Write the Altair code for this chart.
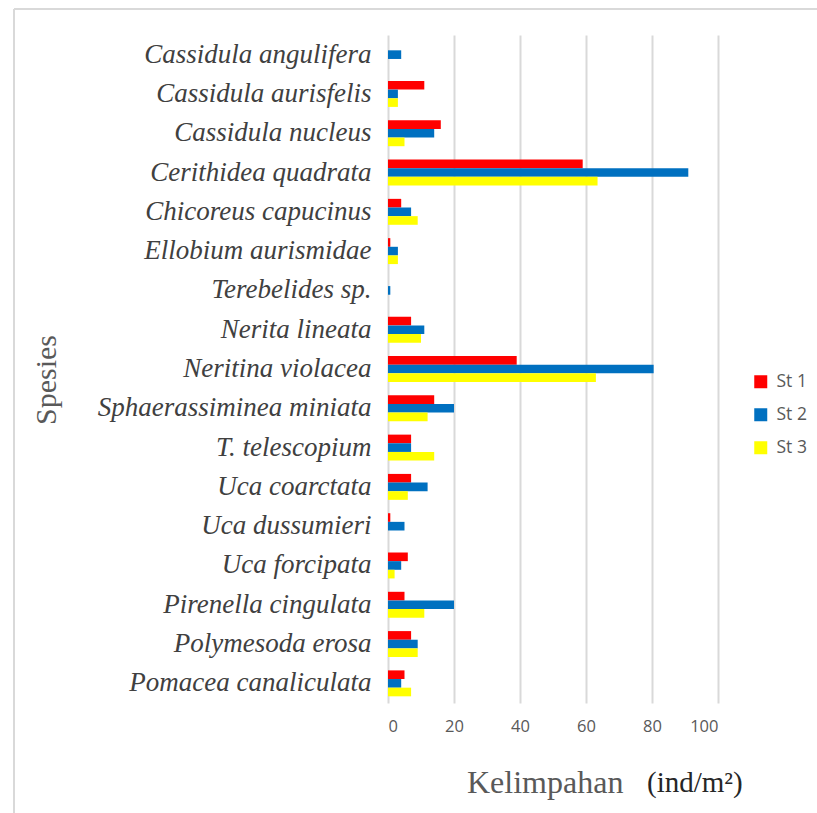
import altair as alt
import pandas as pd

# Species, top to bottom
species = [
    "Cassidula angulifera",
    "Cassidula aurisfelis",
    "Cassidula nucleus",
    "Cerithidea quadrata",
    "Chicoreus capucinus",
    "Ellobium aurismidae",
    "Terebelides sp.",
    "Nerita lineata",
    "Neritina violacea",
    "Sphaerassiminea miniata",
    "T. telescopium",
    "Uca coarctata",
    "Uca dussumieri",
    "Uca forcipata",
    "Pirenella cingulata",
    "Polymesoda erosa",
    "Pomacea canaliculata",
]

stations = ["St 1", "St 2", "St 3"]
station_colors = ["#FF0000", "#0070C0", "#FFFF00"]

# Abundance (ind/m2) per station
st1 = [0, 11, 16, 59, 4, 0.7, 0, 7, 39, 14, 7, 7, 0.7, 6, 5, 7, 5]
st2 = [4, 3, 14, 91, 7, 3, 0.7, 11, 80.5, 20, 7, 12, 5, 4, 20, 9, 4]
st3 = [0, 3, 5, 63.5, 9, 3, 0, 10, 63, 12, 14, 6, 0, 2, 11, 9, 7]

x_ticks = [0, 20, 40, 60, 80, 100]

rows = []
for i, sp in enumerate(species):
    for st, vals in zip(stations, [st1, st2, st3]):
        rows.append({"species": sp, "station": st, "value": vals[i]})
df = pd.DataFrame(rows)

one = pd.DataFrame({"k": [0]})

GRID = "#d9d9d9"
SERIF = "Liberation Serif"
SANS = "Open Sans"

bars = alt.Chart(df).mark_bar().encode(
    x=alt.X(
        "value:Q",
        scale=alt.Scale(domain=[0, 100], nice=False),
        axis=alt.Axis(
            values=x_ticks,
            grid=True,
            gridColor=GRID,
            gridWidth=2,
            domain=False,
            ticks=False,
            labelFont=SANS,
            labelFontSize=16.5,
            labelColor="#595959",
            labelPadding=15,
            title=None,
        ),
    ),
    y=alt.Y(
        "species:N",
        sort=species,
        scale=alt.Scale(paddingInner=0.34, paddingOuter=0.17),
        axis=alt.Axis(
            domain=False,
            ticks=False,
            labelFont=SERIF,
            labelFontStyle="italic",
            labelFontSize=27,
            labelColor="#404040",
            labelPadding=17,
            labelLimit=500,
            title=None,
        ),
    ),
    yOffset=alt.YOffset(
        "station:N",
        sort=stations,
        scale=alt.Scale(paddingInner=0, paddingOuter=0),
    ),
    color=alt.Color(
        "station:N",
        sort=stations,
        scale=alt.Scale(domain=stations, range=station_colors),
        legend=alt.Legend(
            title=None,
            orient="none",
            legendX=364,
            legendY=338,
            padding=0,
            symbolType="square",
            symbolSize=169,
            symbolStrokeWidth=0,
            labelFont=SANS,
            labelFontSize=17.5,
            labelColor="#595959",
            labelOffset=7,
            rowPadding=14,
        ),
    ),
)

x_title = alt.Chart(one).mark_text(
    text="Kelimpahan", font=SERIF, fontSize=32, color="#595959",
    align="left", baseline="alphabetic",
).encode(x=alt.value(79), y=alt.value(758))

x_unit = alt.Chart(one).mark_text(
    text="(ind/m²)", font=SERIF, fontSize=29, color="#262626",
    align="left", baseline="alphabetic",
).encode(x=alt.value(259), y=alt.value(757))

y_title = alt.Chart(one).mark_text(
    text="Spesies", font=SERIF, fontSize=30, color="#595959",
    align="center", baseline="middle", angle=270,
).encode(x=alt.value(-341), y=alt.value(345))

# Outer chart frame (top and left edges)
frame_top = alt.Chart(one).mark_rule(color=GRID, strokeWidth=2).encode(
    x=alt.value(-374), x2=alt.value(429), y=alt.value(-26)
)
frame_left = alt.Chart(one).mark_rule(color=GRID, strokeWidth=2).encode(
    x=alt.value(-374), y=alt.value(-26), y2=alt.value(778)
)

chart = alt.layer(
    frame_top, frame_left, bars, x_title, x_unit, y_title
).properties(
    width=330,
    height=668,
    autosize=alt.AutoSizeParams(type="none"),
    padding={"left": 388, "top": 35, "right": 99, "bottom": 110},
    background="white",
).configure_view(stroke="transparent")

chart.save("out.html", embed_options={"renderer": "svg", "actions": False})
